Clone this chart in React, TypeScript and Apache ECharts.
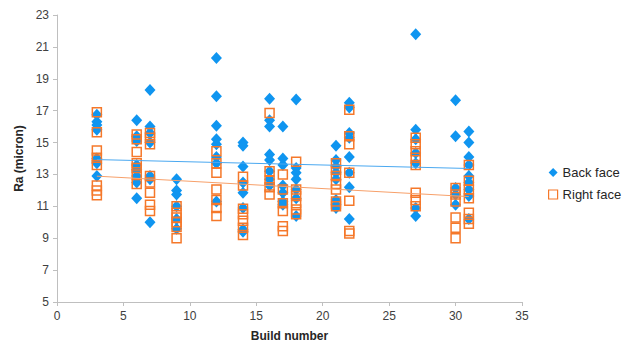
import React, { useEffect, useRef } from "react";
import * as echarts from "echarts";

const xTicks = { min: 0, max: 35, interval: 5 };
const yTicks = { min: 5, max: 23, interval: 2 };

const backFace: [number, number][] = [
  [3, 16.75], [3, 16.3], [3, 16.1], [3, 15.8], [3, 14.0], [3, 13.7], [3, 12.9],
  [6, 16.4], [6, 15.4], [6, 15.1], [6, 13.6], [6, 13.3], [6, 12.9], [6, 12.5], [6, 11.5],
  [7, 18.3], [7, 16.0], [7, 15.6], [7, 15.0], [7, 12.9], [7, 12.7], [7, 10.0],
  [9, 12.7], [9, 12.0], [9, 11.75], [9, 11.0], [9, 10.2], [9, 9.6],
  [12, 20.3], [12, 17.9], [12, 16.05], [12, 15.2], [12, 14.9], [12, 14.1], [12, 13.7], [12, 11.3],
  [14, 15.0], [14, 14.8], [14, 13.5], [14, 12.5], [14, 11.85], [14, 10.9], [14, 9.55], [14, 9.4],
  [16, 17.75], [16, 16.4], [16, 16.0], [16, 14.25], [16, 13.9], [16, 13.2], [16, 12.7], [16, 12.3],
  [17, 16.0], [17, 14.0], [17, 13.6], [17, 12.3], [17, 11.85], [17, 11.3], [17, 11.1],
  [18, 17.7], [18, 13.4], [18, 13.1], [18, 12.7], [18, 12.05], [18, 11.5], [18, 10.4],
  [21, 14.8], [21, 13.9], [21, 13.5], [21, 13.1], [21, 12.7], [21, 11.4], [21, 11.1], [21, 10.9],
  [22, 17.5], [22, 17.2], [22, 15.6], [22, 15.3], [22, 14.1], [22, 13.1], [22, 12.2], [22, 10.2],
  [27, 21.8], [27, 15.8], [27, 15.2], [27, 14.35], [27, 13.7], [27, 10.9], [27, 10.4],
  [30, 17.65], [30, 15.4], [30, 12.15], [30, 11.75], [30, 11.1],
  [31, 15.7], [31, 15.0], [31, 14.1], [31, 13.6], [31, 12.9], [31, 12.5], [31, 12.05], [31, 11.65], [31, 10.2],
];

const rightFace: [number, number][] = [
  [3, 16.9], [3, 15.65], [3, 14.5], [3, 14.05], [3, 13.6], [3, 12.3], [3, 12.0], [3, 11.7],
  [6, 15.5], [6, 15.2], [6, 14.4], [6, 13.7], [6, 13.4], [6, 13.0], [6, 12.4],
  [7, 15.6], [7, 15.3], [7, 14.9], [7, 12.9], [7, 12.5], [7, 11.85], [7, 11.1], [7, 10.7],
  [9, 11.0], [9, 10.6], [9, 10.3], [9, 10.0], [9, 9.7], [9, 9.0],
  [12, 14.45], [12, 13.7], [12, 13.1], [12, 12.05], [12, 11.4], [12, 10.9], [12, 10.4],
  [14, 12.85], [14, 12.3], [14, 10.85], [14, 10.5], [14, 10.1], [14, 9.65], [14, 9.2],
  [16, 16.85], [16, 13.2], [16, 12.6], [16, 12.2], [16, 11.75],
  [17, 13.0], [17, 12.05], [17, 11.2], [17, 10.7], [17, 9.75], [17, 9.45],
  [18, 13.8], [18, 12.05], [18, 11.65], [18, 11.2], [18, 10.8], [18, 10.5],
  [21, 13.7], [21, 13.3], [21, 12.9], [21, 12.4], [21, 12.05], [21, 11.3], [21, 11.0],
  [22, 17.05], [22, 15.4], [22, 14.9], [22, 13.1], [22, 11.35], [22, 9.45], [22, 9.3],
  [27, 15.3], [27, 14.9], [27, 14.45], [27, 14.05], [27, 13.6], [27, 11.85], [27, 11.4], [27, 11.0],
  [30, 12.15], [30, 11.75], [30, 11.3], [30, 10.3], [30, 9.65], [30, 9.0],
  [31, 13.6], [31, 12.6], [31, 12.05], [31, 11.5], [31, 10.6], [31, 10.2], [31, 9.9],
];

const seriesNames = ["Back face", "Right face"];

function trend(points: [number, number][]): [number, number][] {
  const n = points.length;
  let sx = 0, sy = 0, sxx = 0, sxy = 0;
  for (const [x, y] of points) {
    sx += x; sy += y; sxx += x * x; sxy += x * y;
  }
  const slope = (n * sxy - sx * sy) / (n * sxx - sx * sx);
  const icpt = (sy - slope * sx) / n;
  const xs = points.map((p) => p[0]);
  const x0 = Math.min(...xs);
  const x1 = Math.max(...xs);
  return [[x0, icpt + slope * x0], [x1, icpt + slope * x1]];
}

const FONT = "'Liberation Sans', Arial, sans-serif";
const BLUE = "#0f95f0";
const ORANGE = "#f5782a";

export default function App() {
  const ref = useRef<HTMLDivElement>(null);
  useEffect(() => {
    if (!ref.current) return;
    const chart = echarts.init(ref.current, undefined, { renderer: "svg" });
    const axisCommon = {
      axisLine: { show: true, lineStyle: { color: "#bfbfbf", width: 1 } },
      axisTick: { show: true, inside: false, length: 4, lineStyle: { color: "#bfbfbf" } },
      splitLine: { show: false },
      axisLabel: { color: "#404040", fontSize: 12, fontFamily: FONT },
      nameTextStyle: { color: "#262626", fontSize: 12, fontWeight: "bold", fontFamily: FONT },
    };
    chart.setOption({
      animation: false,
      backgroundColor: "#ffffff",
      grid: { left: 57, right: 101, top: 15, bottom: 44, containLabel: false },
      xAxis: {
        type: "value",
        ...xTicks,
        ...axisCommon,
        axisLabel: { ...axisCommon.axisLabel, margin: 8 },
        name: "Build number",
        nameLocation: "middle",
        nameGap: 28,
      },
      yAxis: {
        type: "value",
        ...yTicks,
        ...axisCommon,
        axisLabel: { ...axisCommon.axisLabel, margin: 8 },
        name: "Ra (micron)",
        nameLocation: "middle",
        nameGap: 31,
      },
      legend: {
        orient: "vertical",
        left: 548,
        top: 166,
        padding: 0,
        itemGap: 9,
        itemWidth: 9,
        itemHeight: 9,
        textStyle: { color: "#262626", fontSize: 13, fontFamily: FONT },
        data: [
          { name: seriesNames[0], icon: "diamond", itemStyle: { color: BLUE } },
          {
            name: seriesNames[1],
            icon: "rect",
            itemStyle: { color: "rgba(255,255,255,0)", borderColor: ORANGE, borderWidth: 1.2 },
          },
        ],
      },
      series: [
        {
          name: seriesNames[0],
          type: "scatter",
          symbol: "diamond",
          symbolSize: [11, 12],
          itemStyle: { color: BLUE, opacity: 1 },
          data: backFace,
          z: 2,
        },
        {
          name: seriesNames[1],
          type: "scatter",
          symbol: "rect",
          symbolSize: 9,
          itemStyle: { color: "rgba(255,255,255,0)", borderColor: ORANGE, borderWidth: 1.5, opacity: 1 },
          data: rightFace,
          z: 3,
        },
        {
          name: "Back trend",
          type: "line",
          data: trend(backFace),
          showSymbol: false,
          symbol: "none",
          lineStyle: { color: "#4aa8f0", width: 1 },
          z: 4,
          silent: true,
        },
        {
          name: "Right trend",
          type: "line",
          data: trend(rightFace),
          showSymbol: false,
          symbol: "none",
          lineStyle: { color: "#f7a06a", width: 1 },
          z: 4,
          silent: true,
        },
      ],
    });
    return () => chart.dispose();
  }, []);
  return <div ref={ref} style={{ width: 623, height: 347, position: "absolute", left: 0, top: 0 }} />;
}
